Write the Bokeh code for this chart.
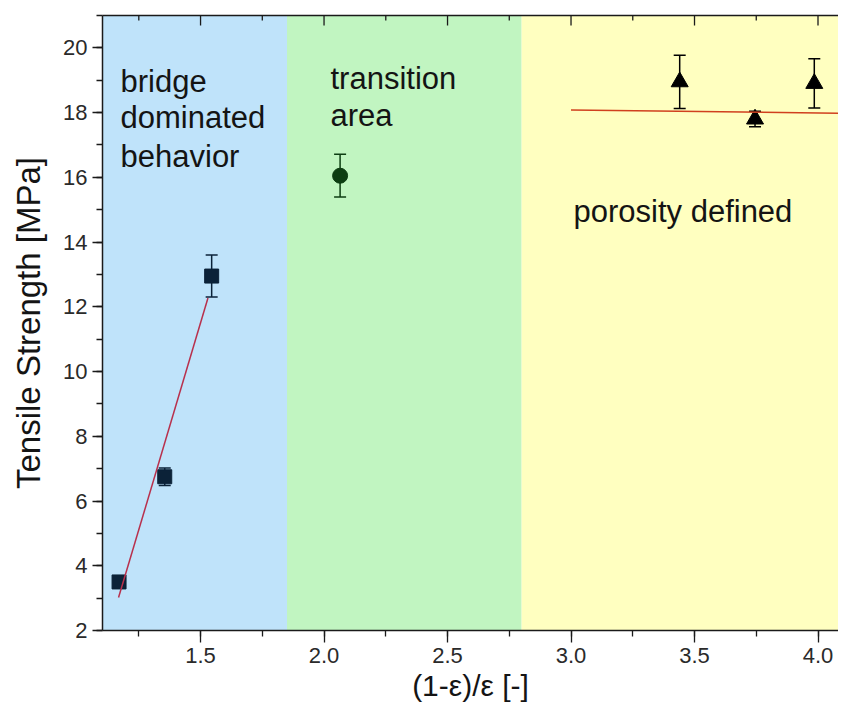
import math
from bokeh.plotting import figure
from bokeh.models import (ColumnDataSource, Whisker, TeeHead, BoxAnnotation, Label,
                          LinearAxis, SingleIntervalTicker, FixedTicker, PrintfTickFormatter, Range1d)
from bokeh.embed import file_html
from bokeh.resources import INLINE

# ---- data ----
region_edges = [1.85, 2.80]           # bridge | transition | porosity
region_colors = ["#bfe3fa", "#c1f5c1", "#ffffc0"]

bridge_x = [1.17, 1.355, 1.545]
bridge_y = [3.5, 6.75, 12.95]
bridge_err = [0.12, 0.27, 0.65]

trans_x = [2.065]
trans_y = [16.05]
trans_err = [0.66]

poro_x = [3.44, 3.745, 3.985]
poro_y = [18.95, 17.8, 18.9]
poro_err = [0.82, 0.24, 0.76]

fit1_x = [1.168, 1.53]
fit1_y = [3.02, 12.27]
fit2_x = [3.0, 4.2]
fit2_y = [18.08, 17.97]

x_min, x_max = 1.103, 4.083
y_min, y_max = 2.0, 21.0
top_major_ticks = [1.5, 2.0, 2.5, 3.0, 3.5, 4.0]
top_minor_ticks = [1.25, 1.75, 2.25, 2.75, 3.25, 3.75]

FONT = "Liberation Sans"
AX = "#1a1a1a"

p = figure(width=838, height=710, output_backend="svg", toolbar_location=None,
           x_range=Range1d(x_min, x_max), y_range=Range1d(y_min, y_max),
           min_border_left=102, min_border_right=0, min_border_top=15, min_border_bottom=80)
p.outline_line_color = None
p.grid.visible = False
p.background_fill_color = "white"

# background regions
p.add_layout(BoxAnnotation(right=region_edges[0], fill_color=region_colors[0], fill_alpha=1,
                           line_color=None, level="underlay"))
p.add_layout(BoxAnnotation(left=region_edges[0], right=region_edges[1], fill_color=region_colors[1],
                           fill_alpha=1, line_color=None, level="underlay"))
p.add_layout(BoxAnnotation(left=region_edges[1], fill_color=region_colors[2], fill_alpha=1,
                           line_color=None, level="underlay"))

def add_series(xs, ys, errs, color, marker, size):
    src = ColumnDataSource(dict(x=xs, y=ys,
                                upper=[y + e for y, e in zip(ys, errs)],
                                lower=[y - e for y, e in zip(ys, errs)]))
    w = Whisker(source=src, base="x", upper="upper", lower="lower", dimension="height",
                line_color=color, line_width=1.5,
                upper_head=TeeHead(size=12, line_color=color, line_width=1.5),
                lower_head=TeeHead(size=12, line_color=color, line_width=1.5))
    p.add_layout(w)
    p.scatter("x", "y", source=src, marker=marker, size=size, fill_color=color,
              line_color=color)

add_series(bridge_x, bridge_y, bridge_err, "#0b2238", "square", 14)
add_series(trans_x, trans_y, trans_err, "#0d3d12", "circle", 15)
add_series(poro_x, poro_y, poro_err, "#000000", "triangle", 17)

p.line(fit1_x, fit1_y, line_color="#b8304c", line_width=1.5)
p.line(fit2_x, fit2_y, line_color="#d0401e", line_width=1.5)

# annotations
labels = [
    ("bridge", 1.176, 18.95), ("dominated", 1.176, 17.84), ("behavior", 1.176, 16.63),
    ("transition", 2.026, 19.06), ("area", 2.026, 17.92),
    ("porosity defined", 3.010, 14.93),
]
for t, x, y in labels:
    p.add_layout(Label(x=x, y=y, text=t, text_font=FONT, text_font_size="31px",
                       text_color="#141414", text_baseline="alphabetic", text_align="left"))

# axes
p.xaxis.ticker = SingleIntervalTicker(interval=0.5, num_minor_ticks=2)
p.yaxis.ticker = SingleIntervalTicker(interval=2, num_minor_ticks=2)
p.xaxis.formatter = PrintfTickFormatter(format="%.1f")
p.xaxis.axis_label = "(1-ε)/ε [-]"
p.yaxis.axis_label = "Tensile Strength [MPa]"

for ax in (p.xaxis[0], p.yaxis[0]):
    ax.axis_line_color = AX
    ax.axis_line_width = 1.5
    ax.major_tick_line_color = AX
    ax.minor_tick_line_color = AX
    ax.major_tick_line_width = 1.3
    ax.minor_tick_line_width = 1.3
    ax.major_tick_in = 0
    ax.minor_tick_in = 0
    ax.major_label_text_font = FONT
    ax.major_label_text_font_size = "22px"
    ax.major_label_text_color = "#2a2a2a"
    ax.axis_label_text_font = FONT
    ax.axis_label_text_font_style = "normal"
    ax.axis_label_text_color = "#141414"

p.xaxis.axis_label_text_font_size = "30px"
p.yaxis.axis_label_text_font_size = "33px"
p.xaxis.major_tick_out = 12
p.xaxis.minor_tick_out = 6
p.xaxis.major_label_standoff = 5
p.xaxis.axis_label_standoff = 3
p.yaxis.major_tick_out = 10
p.yaxis.minor_tick_out = 6
p.yaxis.major_label_standoff = 5
p.yaxis.axis_label_standoff = 13

# top frame line (no labels) and inward ticks
top = LinearAxis(ticker=FixedTicker(ticks=[], minor_ticks=[]),
                 axis_line_color=AX, axis_line_width=1.5,
                 major_tick_out=0, major_tick_in=0, minor_tick_out=0, minor_tick_in=0,
                 major_label_standoff=0)
p.add_layout(top, "above")
p.scatter(top_major_ticks, [y_max] * len(top_major_ticks), marker="dash", size=20,
          angle=math.pi / 2, line_color=AX, line_width=1.3)
p.scatter(top_minor_ticks, [y_max] * len(top_minor_ticks), marker="dash", size=10,
          angle=math.pi / 2, line_color=AX, line_width=1.3)

open("out.html", "w").write(file_html(p, INLINE))
